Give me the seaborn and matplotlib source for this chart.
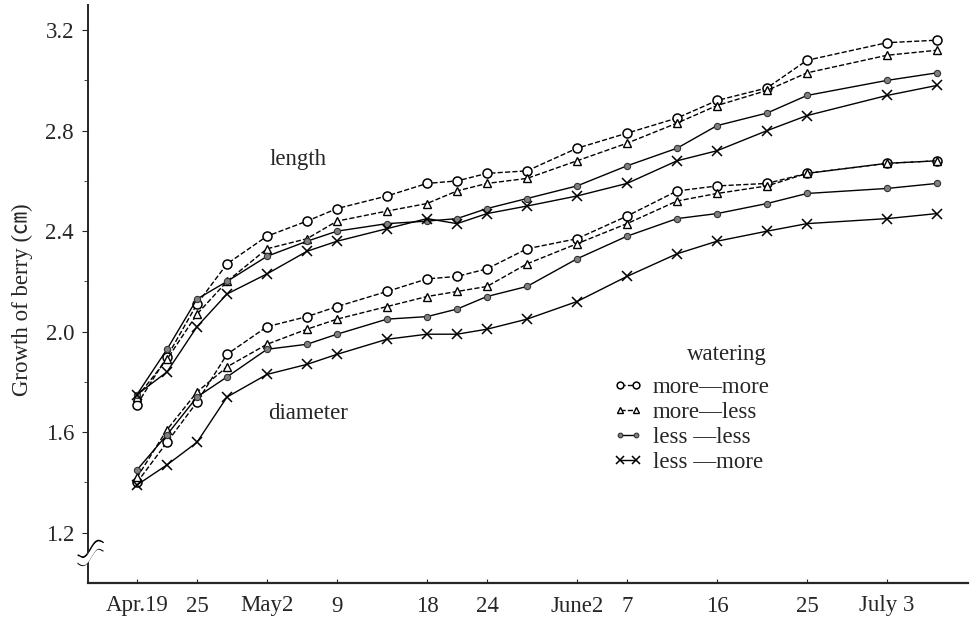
import numpy as np
import pandas as pd
import matplotlib
matplotlib.use("Agg")
import matplotlib.pyplot as plt
from matplotlib.ticker import FixedLocator
import seaborn as sns

# days after Apr.19
days = [0, 3, 6, 9, 13, 17, 20, 25, 29, 32, 35, 39, 44, 49, 54, 58, 63, 67, 75, 80]

len_mm = [1.71, 1.90, 2.11, 2.27, 2.38, 2.44, 2.49, 2.54, 2.59, 2.60, 2.63, 2.64, 2.73, 2.79, 2.85, 2.92, 2.97, 3.08, 3.15, 3.16]
len_ml = [1.74, 1.89, 2.07, 2.20, 2.33, 2.37, 2.44, 2.48, 2.51, 2.56, 2.59, 2.61, 2.68, 2.75, 2.83, 2.90, 2.96, 3.03, 3.10, 3.12]
len_ll = [1.75, 1.93, 2.13, 2.20, 2.30, 2.36, 2.40, 2.43, 2.44, 2.45, 2.49, 2.53, 2.58, 2.66, 2.73, 2.82, 2.87, 2.94, 3.00, 3.03]
len_lm = [1.75, 1.84, 2.02, 2.15, 2.23, 2.32, 2.36, 2.41, 2.45, 2.43, 2.47, 2.50, 2.54, 2.59, 2.68, 2.72, 2.80, 2.86, 2.94, 2.98]

dia_mm = [1.40, 1.56, 1.72, 1.91, 2.02, 2.06, 2.10, 2.16, 2.21, 2.22, 2.25, 2.33, 2.37, 2.46, 2.56, 2.58, 2.59, 2.63, 2.67, 2.68]
dia_ml = [1.42, 1.61, 1.76, 1.86, 1.95, 2.01, 2.05, 2.10, 2.14, 2.16, 2.18, 2.27, 2.35, 2.43, 2.52, 2.55, 2.58, 2.63, 2.67, 2.68]
dia_ll = [1.45, 1.59, 1.74, 1.82, 1.93, 1.95, 1.99, 2.05, 2.06, 2.09, 2.14, 2.18, 2.29, 2.38, 2.45, 2.47, 2.51, 2.55, 2.57, 2.59]
dia_lm = [1.39, 1.47, 1.56, 1.74, 1.83, 1.87, 1.91, 1.97, 1.99, 1.99, 2.01, 2.05, 2.12, 2.22, 2.31, 2.36, 2.40, 2.43, 2.45, 2.47]

treatments = ["more\u2014more", "more\u2014less", "less \u2014less", "less \u2014more"]
tick_days = [0, 6, 13, 20, 29, 35, 44, 49, 58, 67, 75]
tick_labels = ["Apr.19", "25", "May2", "9", "18", "24", "June2", "7", "16", "25", "July 3"]
y_major = [1.2, 1.6, 2.0, 2.4, 2.8, 3.2]

series = {
    ("length", treatments[0]): len_mm,
    ("length", treatments[1]): len_ml,
    ("length", treatments[2]): len_ll,
    ("length", treatments[3]): len_lm,
    ("diameter", treatments[0]): dia_mm,
    ("diameter", treatments[1]): dia_ml,
    ("diameter", treatments[2]): dia_ll,
    ("diameter", treatments[3]): dia_lm,
}
rows = []
for (part, trt), vals in series.items():
    for d, v in zip(days, vals):
        rows.append({"part": part, "treatment": trt, "day": d, "value": v})
df = pd.DataFrame(rows)

styles = {
    treatments[0]: dict(marker="o", markersize=6.5, markerfacecolor="white", markeredgecolor="black",
                        markeredgewidth=1.1, linestyle="--", dashes=(5, 3.5)),
    treatments[1]: dict(marker="^", markersize=6, markerfacecolor="white", markeredgecolor="black",
                        markeredgewidth=1.0, linestyle="--", dashes=(5, 3.5)),
    treatments[2]: dict(marker="o", markersize=4.5, markerfacecolor="#808080", markeredgecolor="#333333",
                        markeredgewidth=0.8, linestyle="-"),
    treatments[3]: dict(marker="x", markersize=7, markeredgecolor="black",
                        markeredgewidth=1.1, linestyle="-"),
}

sns.set_style("ticks")
plt.rcParams["font.family"] = ["Liberation Serif", "Noto Sans CJK JP", "DejaVu Serif"]
fs = 16.5

fig = plt.figure(figsize=(9.71, 6.21), dpi=100)
ax = fig.add_axes([88 / 971, 1 - 583 / 621, 880 / 971, 578 / 621])

for part in ["length", "diameter"]:
    for trt in treatments:
        sub = df[(df["part"] == part) & (df["treatment"] == trt)]
        sns.lineplot(data=sub, x="day", y="value", ax=ax, color="black", linewidth=1.0,
                     errorbar=None, label=trt if part == "length" else None,
                     legend=False, **styles[trt])

ax.set_xlim(-4.9, 83.1)
ax.set_ylim(1.0, 3.3)
ax.set_xticks(tick_days)
ax.set_xticklabels(tick_labels)
ax.yaxis.set_major_locator(FixedLocator(y_major))
ax.yaxis.set_minor_locator(FixedLocator([1.4, 1.8, 2.2, 2.6, 3.0]))
ax.set_yticklabels([f"{v:.1f}" for v in y_major])
ax.tick_params(axis="x", direction="in", length=3, pad=9, labelsize=fs)
ax.tick_params(axis="y", which="major", direction="out", length=4, pad=6, labelsize=fs)
ax.tick_params(axis="y", which="minor", direction="out", length=3)
ax.set_xlabel("")
ax.set_ylabel("Growth of berry (\u339d)", fontsize=fs)
ax.yaxis.set_label_coords(-0.062, 0.49)
for s in ["top", "right"]:
    ax.spines[s].set_visible(False)
ax.spines["left"].set_linewidth(1.4)
ax.spines["bottom"].set_linewidth(1.6)

ax.text(16.1, 2.686, "length", fontsize=fs, ha="center", va="center")
ax.text(17.1, 1.674, "diameter", fontsize=fs, ha="center", va="center")
ax.text(59.0, 1.91, "watering", fontsize=fs, ha="center", va="center")

ax.legend(loc="upper left", bbox_to_anchor=(0.578, 0.385), frameon=False, fontsize=fs,
          numpoints=2, handlelength=1.3, handletextpad=0.45, labelspacing=0.18,
          borderpad=0.2, markerscale=0.75)

# axis break mark
t = np.linspace(0, 1, 40)
bx = -0.011 + 0.028 * t
for off in (0.0, 0.014):
    by = 0.045 + off + 0.022 * (t - 0.5) - 0.008 * np.sin(2 * np.pi * t)
    ax.plot(bx, by, color="black", lw=1.3, transform=ax.transAxes, clip_on=False)
by1 = 0.045 + 0.022 * (t - 0.5) - 0.008 * np.sin(2 * np.pi * t)
ax.fill_between(bx, by1 + 0.002, by1 + 0.012, color="white", transform=ax.transAxes,
                clip_on=False, zorder=3)

fig.savefig("out.png", dpi=100, facecolor="white")
